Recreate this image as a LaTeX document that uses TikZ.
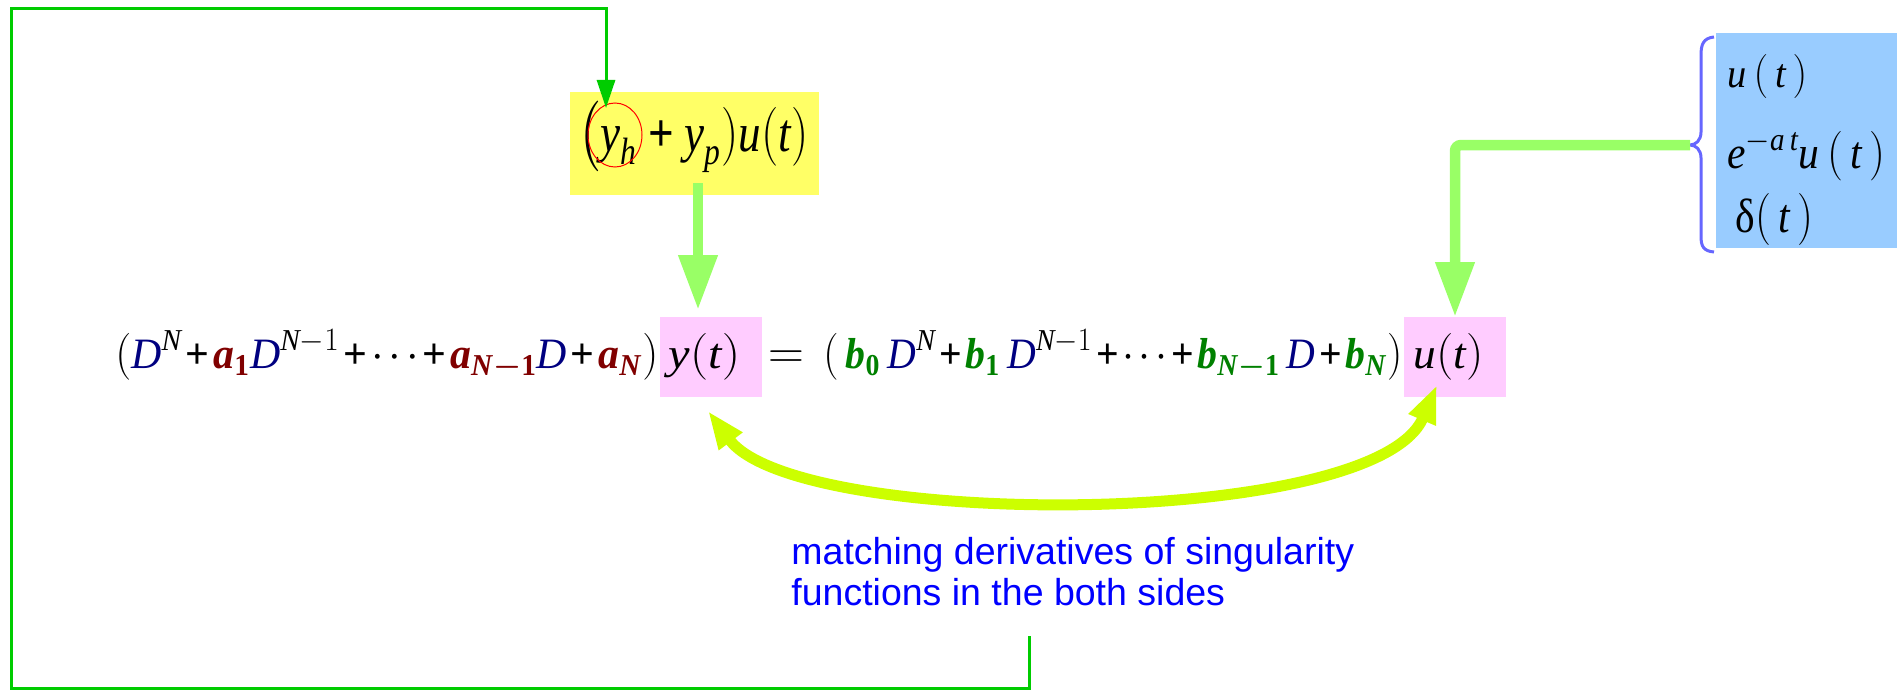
\documentclass[tikz,border=0pt]{standalone}
\usepackage{amsmath}
\usepackage{fontspec}
\setmainfont{Liberation Serif}
\newfontfamily\sansf{Liberation Sans}
\usetikzlibrary{arrows.meta,shapes.geometric}
\definecolor{loopgreen}{RGB}{0,204,0}
\definecolor{lgreen}{RGB}{153,255,102}
\definecolor{limecol}{RGB}{204,255,0}
\definecolor{pinkfill}{RGB}{255,204,255}
\definecolor{yellowfill}{RGB}{255,255,102}
\definecolor{bluefill}{RGB}{153,204,255}
\definecolor{bracecol}{RGB}{102,102,255}
\definecolor{navyD}{RGB}{0,0,128}
\definecolor{redA}{RGB}{128,0,0}
\definecolor{greenB}{RGB}{0,128,0}
\definecolor{textblue}{RGB}{0,0,255}
\newcommand{\Dv}{\textcolor{navyD}{\textit{D}}}
\newcommand{\pl}{\mathbin{\text{\bfseries +}}}
\newcommand{\ca}[1]{\textcolor{redA}{\textbf{\textit{a}}_{#1}}}
\newcommand{\cb}[1]{\textcolor{greenB}{\textbf{\textit{b}}_{#1}}}
\newcommand{\bN}{\textbf{\textit{N}}}
\newcommand{\bNm}{\textbf{\textit{N}}\boldsymbol{-}\textbf{1}}
\newcommand{\ti}[1]{\textit{#1}}
\newcommand{\dts}{\mathinner{\cdotp\mkern-1mu\cdotp\mkern-1mu\cdotp}}
\begin{document}
\begin{tikzpicture}[x=0.5pt,y=-0.5pt,
  fillbox/.style={rectangle,draw=none,inner sep=0pt,outer sep=0pt},
  eqtext/.style={anchor=base west,inner sep=0pt,font=\fontsize{23}{28}\selectfont},
  loopline/.style={draw=loopgreen,line width=1.5pt,-{Triangle[length=14pt,width=9pt]}},
  thickarrow/.style={draw=lgreen,line width=5.25pt,-{Triangle[length=27.5pt,width=18.5pt]}},
  limearrow/.style={draw=limecol,line width=5.5pt,{Triangle[length=19pt,width=13.5pt]}-{Triangle[length=19pt,width=13.5pt]}}
]
\useasboundingbox (0,0) rectangle (1899,690);
% filled boxes
\node[fillbox,fill=yellowfill,minimum width=124.5pt,minimum height=51.5pt] (ybox) at (694.5,143.5) {};
\node[fillbox,fill=pinkfill,minimum width=51pt,minimum height=40pt] (ytbox) at (711,357) {};
\node[fillbox,fill=pinkfill,minimum width=51pt,minimum height=40pt] (utbox) at (1455,357) {};
\node[fillbox,fill=bluefill,minimum width=90.5pt,minimum height=107.5pt] (bbox) at (1806.5,140.5) {};
% texts
\node[eqtext] (ytext) at (578,151) {\resizebox{115pt}{25pt}{$\big(\ti{y}_{\ti{h}}\pl\ti{y}_{\ti{p}})\ti{u}(\ti{t})$}};
\node[draw=red,line width=0.5pt,ellipse,minimum width=27pt,minimum height=32pt,inner sep=0pt] (circ) at (615,135) {};
\node[eqtext] (lhs) at (115,368) {\resizebox{271.5pt}{19pt}{$\medmuskip=1.5mu(\Dv^{\ti{N}}\pl\ca{\textbf{1}}\Dv^{\ti{N}-1}\pl\dts\pl\ca{\bNm}\Dv\pl\ca{\bN})$}};
\node[eqtext] (yt) at (668,368) {\resizebox{36pt}{17.5pt}{$\ti{y}(\ti{t})$}};
\node[eqtext,anchor=base] (eq) at (786,368) {$=$};
\node[eqtext] (rhs) at (823,368) {\resizebox{289.5pt}{19pt}{$\medmuskip=1.5mu(\,\cb{\textbf{0}}\,\Dv^{\ti{N}}\pl\cb{\textbf{1}}\,\Dv^{\ti{N}-1}\pl\dts\pl\cb{\bNm}\,\Dv\pl\cb{\bN})$}};
\node[eqtext] (ut) at (1413,368) {\resizebox{35pt}{17.5pt}{$\ti{u}(\ti{t})$}};
\node[eqtext] (f1) at (1727,88) {\resizebox{40pt}{16.5pt}{$\ti{u}\,(\,\ti{t}\,)$}};
\node[eqtext] (f2) at (1727,168) {\resizebox{79pt}{19pt}{$\ti{e}^{-\ti{a}\,\ti{t}}\ti{u}\,(\,\ti{t}\,)$}};
\node[eqtext] (f3) at (1735,232) {\resizebox{39pt}{19.5pt}{δ$(\,\ti{t}\,)$}};
\node[anchor=north west,inner sep=0pt,text=textblue,align=left,font=\sansf\fontsize{18.75}{20.5}\selectfont] (label) at (791,537) {matching derivatives of singularity\\functions in the both sides};
% brace
\draw[bracecol,line width=1.5pt] (1714,37) .. controls (1703,38) and (1701,45) .. (1701,55) -- (1701,132) .. controls (1701,140) and (1696,145) .. (1690,145) .. controls (1696,145) and (1701,150) .. (1701,158) -- (1701,236) .. controls (1701,246) and (1703,251) .. (1714,252);
% connectors
\coordinate (loopstart) at (1029,636);
\coordinate (looptip) at (606,108);
\draw[loopline] (loopstart) -- (1029,688) -- (11,688) -- (11,9) -- (606,9) -- (looptip);
\coordinate (ystart) at (698,183);
\coordinate (ytip) at (698,310);
\draw[thickarrow] (ystart) -- (ytip);
\coordinate (bracetip) at (1690,145);
\draw[thickarrow,rounded corners=3pt] (bracetip) -| (utbox.north);
\coordinate (lefttip) at (708,411);
\coordinate (righttip) at (1437,385);
\draw[limearrow] (lefttip) .. controls (797,530) and (1375,530) .. (righttip);
\end{tikzpicture}
\end{document}
